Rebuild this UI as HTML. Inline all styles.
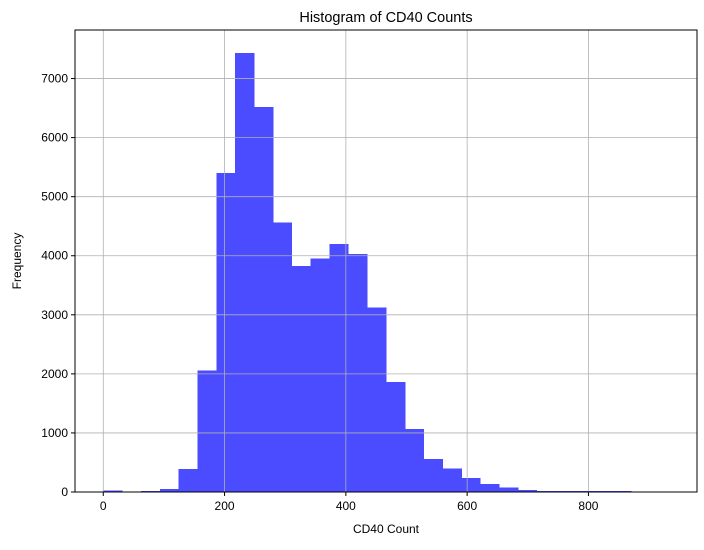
<!DOCTYPE html>
<html><head><meta charset="utf-8"><style>
body{margin:0;background:#fff;font-family:"Liberation Sans","DejaVu Sans",sans-serif}
</style></head><body>
<svg id="chart" width="704" height="545" xmlns="http://www.w3.org/2000/svg"></svg>
<script>
const binStart = 0;
const binWidth = 31.07;
const counts = [22,0,18,50,390,2060,5400,7430,6520,4560,3830,3950,4200,4030,3120,1860,1068,560,400,237,136,73,34,15,15,15,15,15,0,0];
const xTicks = [0,200,400,600,800];
const yTicks = [0,1000,2000,3000,4000,5000,6000,7000];
const L=75,R=697,T=30,B=492;
const xMin=-46.6,xMax=979.0,yMax=7822;
const sx=v=>L+(v-xMin)/(xMax-xMin)*(R-L);
const sy=v=>B-v/yMax*(B-T);
const svg=document.getElementById('chart');
const NS='http://www.w3.org/2000/svg';
function mk(tag,attrs,parent){const e=document.createElementNS(NS,tag);for(const k in attrs)e.setAttribute(k,attrs[k]);(parent||svg).appendChild(e);return e;}
const gBars=mk('g',{'shape-rendering':'crispEdges'});


counts.forEach((c,i)=>{if(c<=0)return;
 const x0=sx(binStart+i*binWidth),x1=sx(binStart+(i+1)*binWidth);
 const r=mk('rect',{x:x0,y:sy(c),width:x1-x0+0.5,height:B-sy(c),fill:'#4b4bff'},gBars);
 
 
});
const gGrid=mk('g',{stroke:'#b0b0b0','stroke-width':0.8});


xTicks.forEach(t=>{mk('line',{x1:sx(t),x2:sx(t),y1:T,y2:B},gGrid);});
yTicks.forEach(t=>{mk('line',{x1:L,x2:R,y1:sy(t),y2:sy(t)},gGrid);});
const frame=mk('rect',{x:L,y:T,width:R-L,height:B-T,fill:'none',stroke:'#000','stroke-width':1});


const gx=mk('g',{'font-size':'12px'});


xTicks.forEach(t=>{mk('line',{x1:sx(t),x2:sx(t),y1:B,y2:B+4,stroke:'#000'},gx);
 const tx=mk('text',{x:sx(t),y:B+18,'text-anchor':'middle'},gx);tx.textContent=t;
 
 });
const gy=mk('g',{'font-size':'12px'});


yTicks.forEach(t=>{mk('line',{x1:L-4,x2:L,y1:sy(t),y2:sy(t),stroke:'#000'},gy);
 const tx=mk('text',{x:L-7,y:sy(t)+4,'text-anchor':'end'},gy);tx.textContent=t;
 
 });
const title=mk('text',{x:(L+R)/2,y:22,'text-anchor':'middle','font-size':'14.5px'});title.textContent='Histogram of CD40 Counts';


const xl=mk('text',{x:(L+R)/2,y:533,'text-anchor':'middle','font-size':'12px'});xl.textContent='CD40 Count';


const yl=mk('text',{x:0,y:0,'text-anchor':'middle','font-size':'12px',transform:`translate(21,${(T+B)/2}) rotate(-90)`});yl.textContent='Frequency';


</script>
</body></html>
